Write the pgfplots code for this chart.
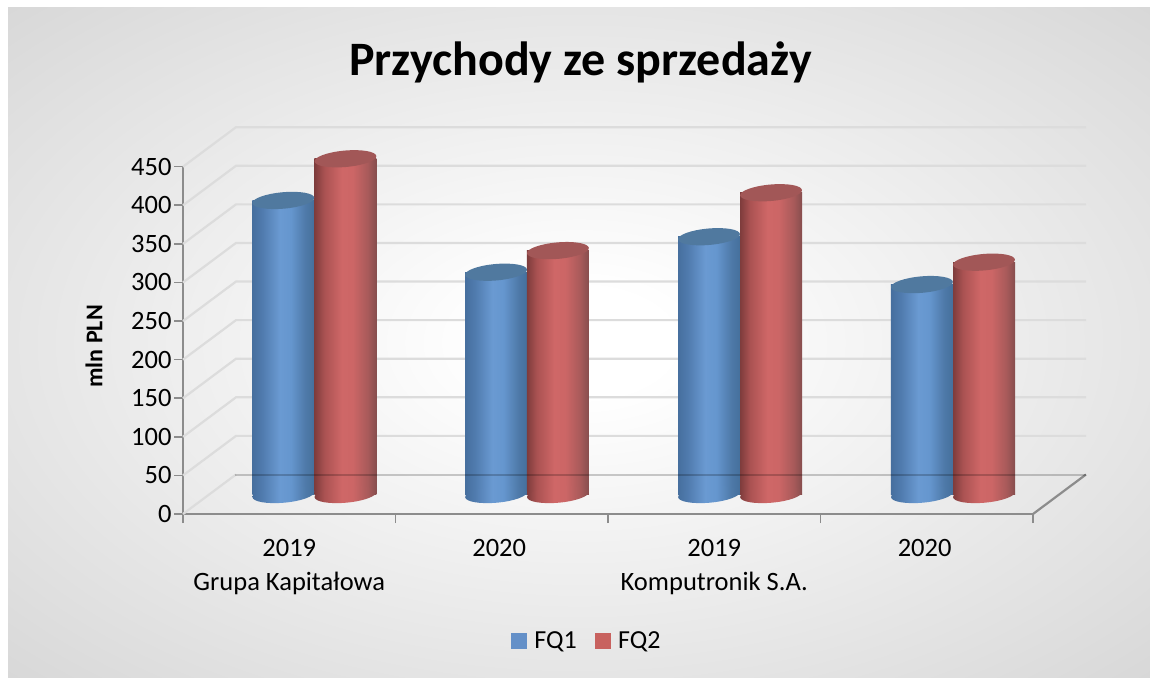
\documentclass[border=0pt]{standalone}
\usepackage{fontspec}
\setmainfont{Carlito}
\usepackage{pgfplots}
\usepackage{pgfplotstable}
\pgfplotsset{compat=1.18}
\definecolor{wallgrid}{HTML}{DCDCDC}
\definecolor{axgray}{HTML}{8C8C8C}
\definecolor{legblue}{HTML}{6490C8}
\definecolor{legred}{HTML}{C8625F}
\definecolor{capblue}{HTML}{50799F}
\definecolor{capred}{HTML}{A25757}
\definecolor{bga}{HTML}{FFFFFF}
\definecolor{bgb}{HTML}{D8D8D8}
\definecolor{bl0}{HTML}{466F9E}
\definecolor{bl1}{HTML}{507BAE}
\definecolor{bl2}{HTML}{6A9AD2}
\definecolor{bl3}{HTML}{6596CE}
\definecolor{bl4}{HTML}{4E79A8}
\definecolor{bl5}{HTML}{45709C}
\definecolor{rd0}{HTML}{7E3C3C}
\definecolor{rd1}{HTML}{AA5252}
\definecolor{rd2}{HTML}{CF6767}
\definecolor{rd3}{HTML}{CC6666}
\definecolor{rd4}{HTML}{A85A5A}
\definecolor{rd5}{HTML}{864E4E}
\pgfdeclareradialshading{bgshade}{\pgfpointorigin}{color(0bp)=(bga); color(4bp)=(bga); color(35.4bp)=(bgb); color(50bp)=(bgb)}
\pgfdeclarehorizontalshading{cylblue}{100bp}{color(0bp)=(bl0); color(25bp)=(bl0); color(33bp)=(bl1); color(47bp)=(bl2); color(56bp)=(bl3); color(68bp)=(bl4); color(75bp)=(bl5); color(100bp)=(bl5)}
\pgfdeclarehorizontalshading{cylred}{100bp}{color(0bp)=(rd0); color(25bp)=(rd0); color(33bp)=(rd1); color(47bp)=(rd2); color(56bp)=(rd3); color(68bp)=(rd4); color(75bp)=(rd5); color(100bp)=(rd5)}
\pgfdeclareplotmark{cyltop}{%
  \pgfpathellipse{\pgfpointorigin}{\pgfpoint{30.9pt}{2.7pt}}{\pgfpoint{-0.7pt}{8.2pt}}%
  \pgfusepathqfill}
\pgfdeclareplotmark{cylbaseb}{%
  \pgfpathellipse{\pgfpointorigin}{\pgfpoint{30.9pt}{2.7pt}}{\pgfpoint{-0.7pt}{8.2pt}}%
  \pgfshadepath{cylblue}{0}\pgfusepath{discard}}
\pgfdeclareplotmark{cylbaser}{%
  \pgfpathellipse{\pgfpointorigin}{\pgfpoint{30.9pt}{2.7pt}}{\pgfpoint{-0.7pt}{8.2pt}}%
  \pgfshadepath{cylred}{0}\pgfusepath{discard}}
\pgfplotstableread{
x y
0.350 381
1.351 288
2.353 334
3.355 272
}\fqone
\pgfplotstableread{
x y
0.642 435
1.642 316
2.645 391
3.647 301
}\fqtwo
\pgfplotstableread{
x y
0.350 0
1.351 0
2.353 0
3.355 0
}\fqonebase
\pgfplotstableread{
x y
0.642 0
1.642 0
2.645 0
3.647 0
}\fqtwobase
\begin{document}
\begin{tikzpicture}[x=1pt,y=1pt]
\useasboundingbox (0,0) rectangle (1150,677);
\fill[white] (0,0) rectangle (1150,677);
\path[shading=bgshade] (8,0) rectangle (1150,669);
\node[font=\fontsize{48}{56}\selectfont\bfseries,anchor=base] at (580.5,601) {Przychody ze sprzedaży};
% wall and axis
\begin{axis}[
  at={(183pt,163pt)},anchor=south west,scale only axis,
  width=850pt,height=347.3pt,
  xmin=0,xmax=4,ymin=0,ymax=450,clip=false,
  axis x line=bottom,axis y line=left,
  axis line style={-,color=axgray,line width=2.2pt},
  xtick={0.5,1.488,2.5,3.49},
  minor xtick={0,1,2,3,4},
  xticklabels={{2019\\Grupa Kapitałowa},{2020},{2019\\Komputronik S.A.},{2020}},
  xticklabel style={font=\fontsize{26.5}{34}\selectfont,align=center,yshift=-13pt},
  ytick={0,50,...,450},
  major x tick style={draw=none},
  minor x tick style={color=axgray,line width=1.6pt},
  major y tick style={color=axgray,line width=1.6pt},
  tick align=outside,
  major tick length=9pt,minor tick length=9pt,
  yticklabel style={font=\fontsize{26.5}{30}\selectfont,xshift=1pt},
  /pgf/number format/assume math mode=true,
  ylabel={mln PLN},
  ylabel style={font=\fontsize{24}{28}\selectfont\bfseries,yshift=22pt,xshift=-6pt},
  legend columns=2,
  legend style={at={(0.475,-0.364)},anchor=center,draw=none,fill=none,
     font=\fontsize{26}{30}\selectfont,
     /tikz/column 1/.style={column sep=6pt},
     /tikz/column 2/.style={column sep=16pt},
     /tikz/column 3/.style={column sep=6pt}},
  legend image code/.code={\fill[#1] (0pt,-7.5pt) rectangle (15pt,7.5pt);},
]
\addlegendimage{legblue}\addlegendentry{FQ1}
\addlegendimage{legred}\addlegendentry{FQ2}
\pgfplotsset{grid line/.style={wallgrid,line width=2.2pt,forget plot}}
\addplot[grid line] coordinates {(0,0)(0.2494,51.2)};
\addplot[grid line] coordinates {(0,50)(0.2494,101.2)(4.2494,101.2)};
\addplot[grid line] coordinates {(0,100)(0.2494,151.2)(4.2494,151.2)};
\addplot[grid line] coordinates {(0,150)(0.2494,201.2)(4.2494,201.2)};
\addplot[grid line] coordinates {(0,200)(0.2494,251.2)(4.2494,251.2)};
\addplot[grid line] coordinates {(0,250)(0.2494,301.2)(4.2494,301.2)};
\addplot[grid line] coordinates {(0,300)(0.2494,351.2)(4.2494,351.2)};
\addplot[grid line] coordinates {(0,350)(0.2494,401.2)(4.2494,401.2)};
\addplot[grid line] coordinates {(0,400)(0.2494,451.2)(4.2494,451.2)};
\addplot[grid line] coordinates {(0,450)(0.2494,501.2)(4.2494,501.2)};
\addplot[axgray,line width=2.2pt,forget plot] coordinates {(4,0)(4.2494,51.2)};
\end{axis}
% cylinders
\begin{axis}[
  at={(209pt,182.5pt)},anchor=south west,scale only axis,
  width=850pt,height=347.3pt,
  xmin=0,xmax=4,ymin=0,ymax=450,clip=false,
  hide axis,
  side b/.style={ybar,bar width=62pt,bar shift=0pt,draw=none,shade,shading=cylblue},
  side r/.style={ybar,bar width=62pt,bar shift=0pt,draw=none,shade,shading=cylred},
]
\addplot[only marks,mark=cylbaseb] table {\fqonebase};
\addplot[side b] coordinates {(0.350,381)};
\addplot[side b] coordinates {(1.351,288)};
\addplot[side b] coordinates {(2.353,334)};
\addplot[side b] coordinates {(3.355,272)};
\addplot[only marks,mark=cyltop,capblue,mark options={fill=capblue}] table {\fqone};
\addplot[only marks,mark=cylbaser] table {\fqtwobase};
\addplot[side r] coordinates {(0.642,435)};
\addplot[side r] coordinates {(1.642,316)};
\addplot[side r] coordinates {(2.645,391)};
\addplot[side r] coordinates {(3.647,301)};
\addplot[only marks,mark=cyltop,capred,mark options={fill=capred}] table {\fqtwo};
\addplot[black,opacity=0.2,line width=2pt] coordinates {(0.122,25.9)(4.127,25.9)};
\end{axis}
\end{tikzpicture}
\end{document}
